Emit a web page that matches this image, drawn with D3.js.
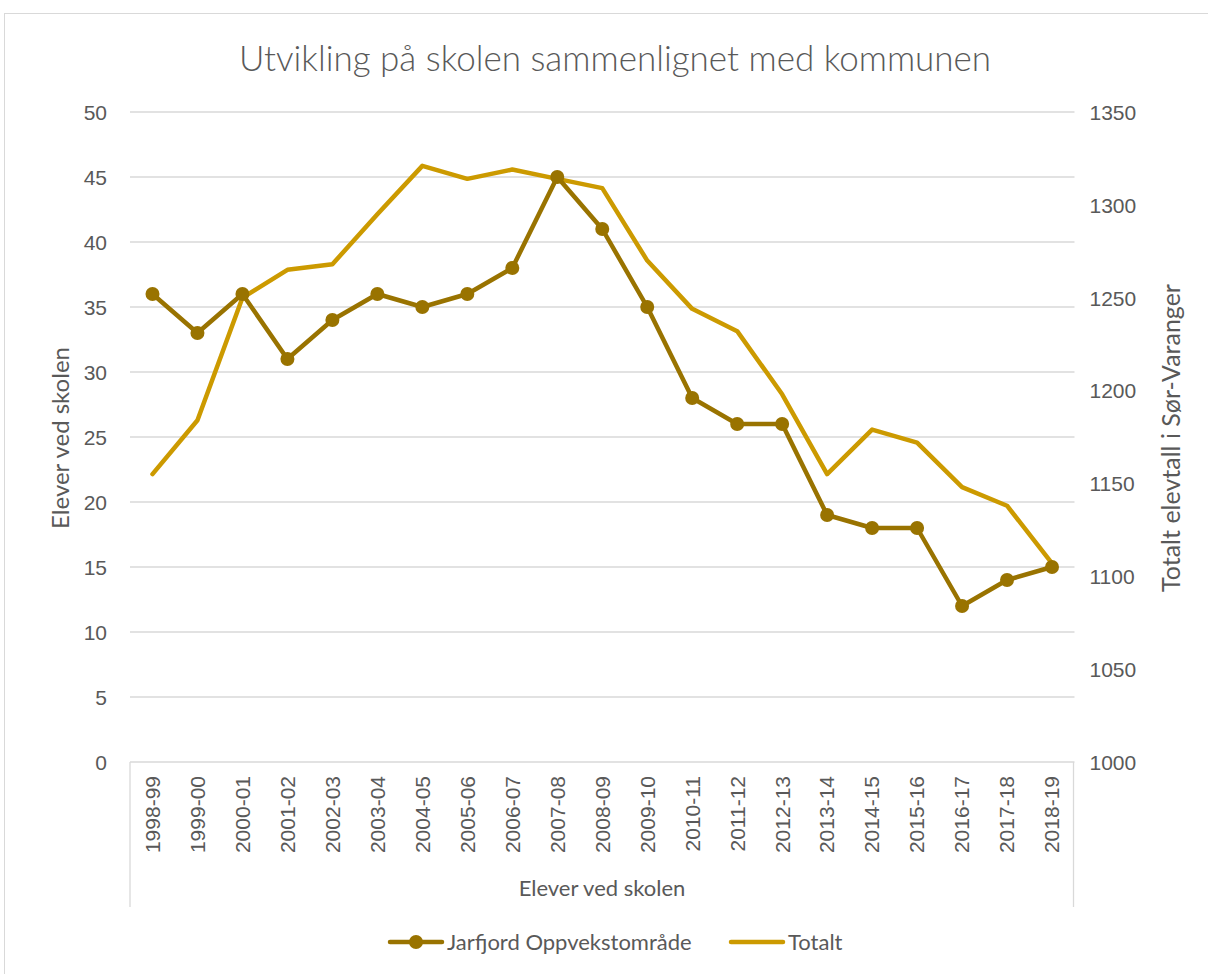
<!DOCTYPE html>
<html><head><meta charset="utf-8">
<script src="https://cdn.jsdelivr.net/npm/d3@7"></script>
<style>body{margin:0;background:#fff;} svg{display:block;font-family:Lato,"Open Sans",sans-serif;}</style>
</head><body>
<svg id="c" width="1208" height="974"></svg>
<script>
const categories = ["1998-99","1999-00","2000-01","2001-02","2002-03","2003-04","2004-05","2005-06","2006-07","2007-08","2008-09","2009-10","2010-11","2011-12","2012-13","2013-14","2014-15","2015-16","2016-17","2017-18","2018-19"];
const jarfjord = [36,33,36,31,34,36,35,36,38,45,41,35,28,26,26,19,18,18,12,14,15];
const totalt = [1155,1184,1250,1265,1268,1295,1321,1314,1319,1314,1309,1270,1244,1232,1198,1155,1179,1172,1148,1138,1107];
const leftTicks = [0,5,10,15,20,25,30,35,40,45,50];
const rightTicks = [1000,1050,1100,1150,1200,1250,1300,1350];
const title = "Utvikling på skolen sammenlignet med kommunen";
const leftTitle = "Elever ved skolen";
const rightTitle = "Totalt elevtall i Sør-Varanger";
const xTitle = "Elever ved skolen";
const seriesNames = ["Jarfjord Oppvekstområde","Totalt"];
const colors = ["#997300","#cc9a00"];

const svg = d3.select("#c");
const txt = "#595959";
const plot = {l:130, r:1074.5, t:112, b:762};

// outer frame
svg.append("rect").attr("x",4.5).attr("y",13.5).attr("width",1215).attr("height",975)
  .attr("fill","none").attr("stroke","#d9d9d9").attr("stroke-width",1);

const x = d3.scaleBand().domain(categories).range([plot.l, plot.r]);
const yL = d3.scaleLinear().domain([0,50]).range([plot.b, plot.t]);
const yR = d3.scaleLinear().domain([1000,1350]).range([plot.b, plot.t]);

// gridlines
svg.append("g").selectAll("line").data(leftTicks.filter(d=>d>0)).join("line")
  .attr("x1",plot.l).attr("x2",plot.r).attr("y1",d=>yL(d)).attr("y2",d=>yL(d))
  .attr("stroke","#d9d9d9").attr("stroke-width",1.3);

// category axis box lines
const axG = svg.append("g").attr("stroke","#d9d9d9").attr("stroke-width",1.3);
axG.append("line").attr("x1",plot.l).attr("x2",plot.r).attr("y1",plot.b).attr("y2",plot.b);
axG.append("line").attr("x1",plot.l).attr("x2",plot.l).attr("y1",plot.b).attr("y2",907);
axG.append("line").attr("x1",plot.r-1).attr("x2",plot.r-1).attr("y1",plot.b).attr("y2",907);

// left axis
const la = svg.append("g").attr("transform",`translate(${plot.l-23},0)`)
  .call(d3.axisLeft(yL).tickValues(leftTicks).tickSize(0).tickPadding(0));
la.select(".domain").remove();
la.selectAll("text").attr("fill",txt).style("font-size","21px").attr("dy","0.35em");

// right axis
const ra = svg.append("g").attr("transform",`translate(${plot.r+15},0)`)
  .call(d3.axisRight(yR).tickValues(rightTicks).tickFormat(d3.format("d")).tickSize(0).tickPadding(0));
ra.select(".domain").remove();
ra.selectAll("text").attr("fill",txt).style("font-size","21px").attr("dy","0.35em");

// bottom axis labels rotated
const ba = svg.append("g").attr("transform",`translate(0,${plot.b+14})`)
  .call(d3.axisBottom(x).tickSize(0).tickPadding(0));
ba.select(".domain").remove();
ba.selectAll("text").attr("fill",txt).style("font-size","21px")
  .attr("text-anchor","end").attr("transform","rotate(-90)")
  .attr("x",0).attr("y",0).attr("dy","0.35em");

// axis titles
svg.append("text").attr("transform",`translate(69,438) rotate(-90)`).attr("text-anchor","middle")
  .attr("fill",txt).style("font-size","24px").text(leftTitle);
svg.append("text").attr("transform",`translate(1180,438) rotate(-90)`).attr("text-anchor","middle")
  .attr("fill",txt).style("font-size","25px").text(rightTitle);
svg.append("text").attr("x",602).attr("y",896).attr("text-anchor","middle")
  .attr("fill",txt).style("font-size","22px").text(xTitle);

// title
svg.append("text").attr("x",615).attr("y",71).attr("text-anchor","middle")
  .attr("fill",txt).style("font-size","35px").style("font-weight","300").text(title);

// lines
const cx = d => x(d)+x.bandwidth()/2;
const lineT = d3.line().x((d,i)=>cx(categories[i])).y(d=>yR(d));
const lineJ = d3.line().x((d,i)=>cx(categories[i])).y(d=>yL(d));
svg.append("path").attr("d",lineT(totalt)).attr("fill","none").attr("stroke",colors[1])
  .attr("stroke-width",4.5).attr("stroke-linejoin","round").attr("stroke-linecap","round");
svg.append("path").attr("d",lineJ(jarfjord)).attr("fill","none").attr("stroke",colors[0])
  .attr("stroke-width",4.5).attr("stroke-linejoin","round").attr("stroke-linecap","round");
svg.append("g").selectAll("circle").data(jarfjord).join("circle")
  .attr("cx",(d,i)=>cx(categories[i])).attr("cy",d=>yL(d)).attr("r",7).attr("fill",colors[0]);

// legend
const lg = svg.append("g");
const items = [{x:388, name:seriesNames[0], c:colors[0], m:true},{x:729, name:seriesNames[1], c:colors[1], m:false}];
items.forEach(it=>{
  lg.append("line").attr("x1",it.x+2).attr("x2",it.x+54).attr("y1",942).attr("y2",942)
    .attr("stroke",it.c).attr("stroke-width",4.5).attr("stroke-linecap","round");
  if(it.m) lg.append("circle").attr("cx",it.x+28).attr("cy",942).attr("r",7).attr("fill",it.c);
  lg.append("text").attr("x",it.x+59).attr("y",942).attr("dy","0.35em").attr("fill",txt)
    .style("font-size","22px").text(it.name);
});
</script>
</body></html>
